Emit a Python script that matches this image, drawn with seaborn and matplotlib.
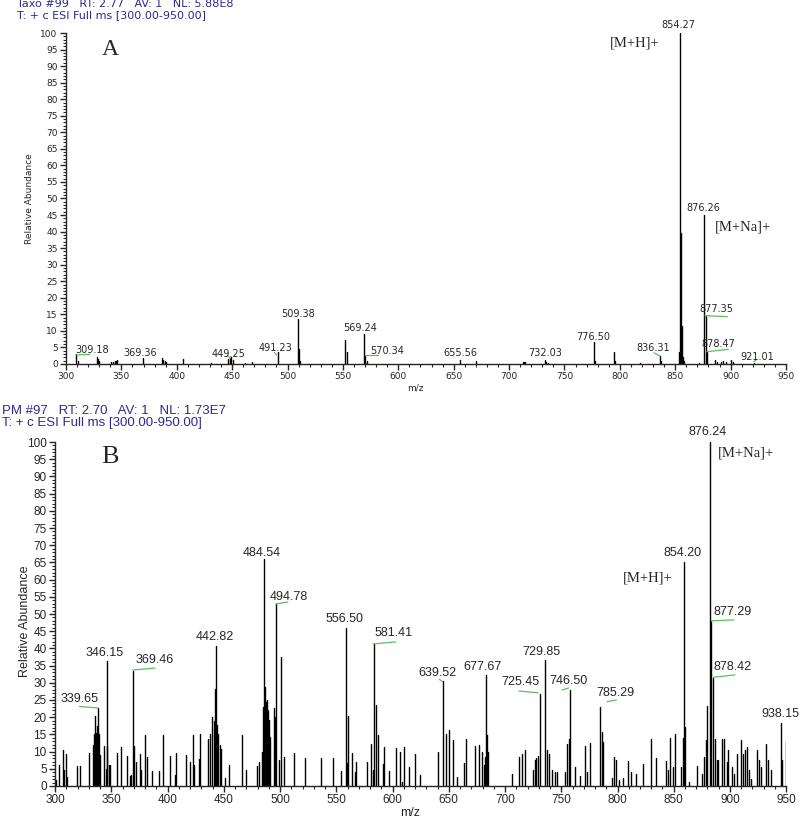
import numpy as np
import pandas as pd
import matplotlib
matplotlib.use("Agg")
import matplotlib.pyplot as plt
import seaborn as sns
from matplotlib.ticker import MultipleLocator

# ---- Panel A : Taxo #99 ----
a_mz = [309.18, 310.5, 327.7, 328.5, 329.5, 340.7, 342.2, 343.8, 345.2, 346.1,
        369.36, 386.8, 388.0, 389.2, 390.4, 405.8, 431.2, 446.2, 448.0, 449.25,
        450.4, 462.0, 468.0, 491.23, 509.38, 510.3, 511.4, 551.8, 553.9, 569.24,
        570.34, 571.5, 655.56, 669.8, 712.5, 713.5, 714.5, 732.03, 733.6, 735.0,
        776.50, 777.5, 794.4, 795.4, 818.3, 836.31, 837.3, 853.2, 854.27, 855.27,
        856.27, 857.3, 858.3, 871.9, 876.26, 877.35, 878.47, 886.2, 888.0, 891.1,
        893.3, 895.4, 900.3, 901.8, 921.01]
a_int = [3.0, 1.0, 2.2, 1.6, 1.0, 0.7, 0.5, 0.8, 1.0, 1.2,
         1.7, 1.7, 1.3, 1.0, 0.7, 1.5, 0.4, 1.5, 1.8, 2.0,
         1.2, 0.4, 0.5, 3.5, 13.5, 4.5, 1.0, 7.3, 3.5, 9.0,
         2.5, 1.0, 1.2, 1.0, 0.5, 0.7, 0.5, 1.3, 0.7, 0.4,
         6.5, 1.0, 3.7, 1.0, 0.3, 2.5, 1.0, 3.5, 100.0, 39.5,
         11.5, 2.0, 1.0, 0.3, 45.0, 14.5, 4.0, 1.3, 0.6, 0.5,
         1.0, 0.6, 1.3, 0.5, 0.3]
a_labels = ["309.18", "369.36", "449.25", "491.23", "509.38", "569.24", "570.34",
            "655.56", "732.03", "776.50", "836.31", "854.27", "876.26", "877.35",
            "878.47", "921.01"]
a_header = ["Taxo #99   RT: 2.77   AV: 1   NL: 5.88E8",
            "T: + c ESI Full ms [300.00-950.00]"]

# ---- Panel B : PM #97 ----
b_mz = [300.9, 303.6, 306.8, 308.3, 309.8, 311.0, 319.3, 322.3, 330.0,
        333.6, 334.5, 335.6, 336.5, 337.1, 338.0, 338.6, 339.5, 340.4,
        343.1, 344.9, 346.0, 346.6, 347.8, 349.0, 354.9, 358.8, 363.9, 366.2,
        367.4, 369.2, 370.4, 371.6, 375.1, 376.6, 379.6, 381.7, 386.1, 392.7,
        395.9, 401.9, 406.9, 407.5, 416.4, 420.3, 422.4, 423.3, 427.7, 428.6,
        435.7, 438.1, 439.6, 441.1, 442.0, 443.2, 444.1, 445.2, 446.4, 447.6,
        451.5, 454.4, 466.6, 469.9, 479.7, 481.2,
        484.2, 485.0, 485.7, 486.5, 487.3, 488.0, 488.9, 489.8, 491.0,
        494.6, 495.4, 496.1, 499.0, 500.5, 503.5, 512.4, 522.2, 536.1, 546.8,
        554.0, 558.4, 559.3, 560.5, 564.3, 566.7, 567.9, 577.7, 581.3, 582.8,
        583.7, 585.7, 587.2, 591.1, 592.0, 597.0, 603.0, 606.8, 608.0, 609.8,
        614.8, 619.9, 624.7, 640.3, 644.7, 647.1, 650.0, 653.5, 657.4, 663.2,
        665.6, 673.5, 677.1, 679.4, 680.9, 682.4, 682.9, 683.8, 684.7, 705.9,
        712.4, 715.3, 717.6, 725.0, 726.5, 727.9, 729.4, 730.9, 735.9, 737.1,
        739.1, 742.1, 744.1, 745.9, 752.9, 755.0, 756.8, 757.9, 761.8, 766.8,
        771.5, 772.6, 775.6, 784.4, 785.9, 786.8, 794.7, 797.1, 798.5, 801.5,
        805.3, 809.7, 811.8, 816.8, 822.6, 830.0, 834.4, 843.2, 844.7, 847.1,
        849.4, 851.5, 856.8, 858.2, 858.8, 860.3, 863.8, 870.6, 875.0, 877.1,
        878.5, 879.4, 881.8, 882.9, 884.7, 886.8, 888.2, 889.7, 892.6, 894.7,
        897.1, 898.5, 901.5, 903.8, 906.5, 909.4, 911.2, 913.2, 915.3, 917.1,
        919.1, 924.4, 925.9, 927.9, 931.8, 933.8, 936.2, 945.0, 946.5, 949.4]
b_int = [1.6, 6.0, 10.5, 4.7, 9.2, 2.6, 5.8, 5.8, 9.7,
         12.0, 15.0, 20.3, 15.5, 17.5, 15.5, 22.7, 15.0, 9.0,
         11.6, 4.8, 36.2, 11.6, 6.0, 6.0, 9.6, 11.3, 8.6, 2.9,
         3.3, 33.4, 11.6, 7.0, 9.4, 4.7, 14.7, 8.4, 4.3, 4.3,
         14.7, 8.7, 3.3, 9.6, 9.1, 7.0, 14.7, 6.0, 7.8, 15.0,
         13.8, 15.0, 20.0, 19.0, 28.3, 40.7, 17.6, 15.0, 12.0, 10.9,
         2.3, 6.0, 14.7, 4.7, 5.8, 7.0,
         9.9, 23.0, 66.0, 28.8, 24.4, 25.0, 22.0, 19.3, 14.2,
         22.8, 20.0, 53.0, 7.5, 37.5, 8.4, 9.7, 8.1, 8.1, 8.1,
         4.3, 46.0, 6.7, 20.3, 9.6, 4.1, 7.0, 7.0, 12.3, 4.6,
         41.2, 23.6, 14.7, 6.5, 11.3, 4.3, 11.0, 10.0, 1.2, 11.3,
         5.5, 9.4, 3.3, 9.9, 30.4, 15.2, 16.2, 13.3, 2.6, 6.7,
         13.8, 11.6, 12.0, 9.9, 6.0, 8.4, 32.4, 14.7, 10.0, 3.4,
         8.4, 9.4, 10.4, 4.6, 7.7, 8.2, 8.6, 26.8, 36.7, 10.4,
         9.4, 4.6, 4.1, 4.1, 4.1, 12.3, 13.8, 27.8, 5.5, 2.9,
         11.6, 4.1, 12.6, 23.0, 15.7, 12.8, 2.3, 8.4, 7.5, 1.6,
         2.3, 7.2, 4.1, 3.4, 6.5, 13.8, 8.0, 7.2, 4.6, 14.0,
         5.5, 15.0, 5.5, 14.0, 65.0, 17.2, 1.2, 5.7, 3.5, 8.4,
         13.5, 23.4, 100.0, 48.0, 31.5, 13.8, 7.5, 7.5, 13.8, 13.8,
         7.0, 10.4, 5.5, 3.5, 9.4, 13.3, 9.4, 10.4, 11.3, 4.6,
         2.1, 10.4, 7.5, 5.5, 12.1, 7.5, 4.6, 18.3, 7.5, 13.0]
b_labels = ["339.65", "346.15", "369.46", "442.82", "484.54", "494.78", "556.50",
            "581.41", "639.52", "677.67", "725.45", "729.85", "746.50", "785.29",
            "854.20", "876.24", "877.29", "878.42", "938.15"]
b_header = ["PM #97   RT: 2.70   AV: 1   NL: 1.73E7",
            "T: + c ESI Full ms [300.00-950.00]"]

# label placement (layout only): centre of each label, in axis units
a_label_xy = [(323.2, 4.2), (366.8, 3.4), (446.5, 3.0), (488.7, 4.9), (509.2, 15.0),
              (565.4, 10.8), (589.5, 4.0), (655.7, 3.2), (732.4, 3.2), (776.0, 8.2),
              (830.2, 4.7), (852.8, 102.4), (875.3, 47.0), (887.5, 16.5),
              (888.9, 6.0), (923.6, 2.2)]
a_leaders = [((308.8, 2.7), (321.7, 2.9)), ((445.6, 2.7), (448.1, 1.7)),
             ((488.1, 3.5), (490.2, 2.7)), ((569.9, 2.7), (581.9, 2.7)),
             ((830.8, 3.4), (836.3, 2.4)), ((876.9, 14.6), (897.0, 14.3)),
             ((878.4, 3.7), (897.9, 4.4)), ((921.1, 0.7), (923.5, 1.4))]
b_label_xy = [(322.2, 25.3), (344.4, 38.7), (388.8, 36.6), (442.1, 43.3), (483.6, 67.8),
              (507.9, 55.0), (557.6, 48.5), (600.5, 44.6), (640.0, 32.9), (680.0, 34.7),
              (713.7, 30.3), (732.4, 38.9), (756.0, 30.5), (798.4, 26.9), (858.2, 67.6),
              (880.4, 102.8), (902.6, 50.7), (902.6, 34.7), (945.0, 20.8)]
b_leaders = [((321.6, 23.1), (338.2, 22.7)), ((369.0, 33.7), (388.8, 34.3)),
             ((496.1, 52.9), (507.0, 53.5)), ((582.8, 41.3), (603.0, 41.9)),
             ((641.6, 31.0), (644.6, 30.3)), ((712.2, 27.6), (729.4, 27.1)),
             ((750.7, 27.9), (756.6, 28.5)), ((790.7, 24.5), (799.0, 25.0)),
             ((883.4, 48.0), (903.5, 48.3)), ((885.1, 31.6), (904.4, 32.3))]

sns.set_style("ticks")
plt.rcParams["font.family"] = ["DejaVu Sans"]

GREEN = "#5cbf5c"
BLUE = "#2a2a90"


def draw_spectrum(ax, mz, inten, tick_size, tick_font):
    # each peak = a stick from 0 up to its intensity
    n = len(mz)
    df = pd.DataFrame({
        "mz": np.repeat(mz, 2),
        "rel": np.column_stack([np.zeros(n), inten]).ravel(),
        "peak": np.repeat(np.arange(n), 2),
    })
    sns.lineplot(data=df, x="mz", y="rel", units="peak", estimator=None,
                 sort=False, color="black", lw=1.0, ax=ax, legend=False)
    ax.set_xlim(300, 950)
    ax.set_ylim(0, 100)
    ax.xaxis.set_major_locator(MultipleLocator(50))
    ax.xaxis.set_minor_locator(MultipleLocator(10))
    ax.yaxis.set_major_locator(MultipleLocator(5))
    ax.yaxis.set_minor_locator(MultipleLocator(1))
    ax.tick_params(which="major", direction="out", length=4.5, width=1.0,
                   labelsize=tick_size, pad=1.5)
    ax.tick_params(which="minor", direction="out", length=2.5, width=0.8)
    for lab in ax.get_xticklabels() + ax.get_yticklabels():
        lab.set_family(tick_font)
    sns.despine(ax=ax)
    for s in ("left", "bottom"):
        ax.spines[s].set_linewidth(1.0)
    ax.set_xlabel("")
    ax.set_ylabel("")


fig = plt.figure(figsize=(8, 8.19), dpi=100)
axA = fig.add_axes([0.0825, 0.5556, 0.9, 0.4041])
axB = fig.add_axes([0.0688, 0.0403, 0.914, 0.42])

draw_spectrum(axA, a_mz, a_int, 6.5, "DejaVu Sans")
draw_spectrum(axB, b_mz, b_int, 8.5, "Liberation Sans")

# peak labels and leader lines
for txt, (x, y) in zip(a_labels, a_label_xy):
    axA.text(x, y, txt, ha="center", va="center", fontsize=7,
             family="DejaVu Sans", clip_on=False)
for (p0, p1) in a_leaders:
    axA.plot([p0[0], p1[0]], [p0[1], p1[1]], color=GREEN, lw=0.9)
for txt, (x, y) in zip(b_labels, b_label_xy):
    axB.text(x, y, txt, ha="center", va="center", fontsize=9,
             family="Liberation Sans", clip_on=False)
for (p0, p1) in b_leaders:
    axB.plot([p0[0], p1[0]], [p0[1], p1[1]], color=GREEN, lw=0.9)

serif = "Liberation Serif"
axA.text(339.7, 94.9, "A", fontsize=17, family=serif, ha="center", va="center")
axA.text(813.7, 96.9, "[M+H]+", fontsize=10.5, family=serif, ha="center", va="center")
axA.text(911.5, 41.5, "[M+Na]+", fontsize=10.5, family=serif, ha="center", va="center")
axB.text(348.9, 95.6, "B", fontsize=19, family=serif, ha="center", va="center")
axB.plot([353.5, 355.5], [95.6, 95.6], color=GREEN, lw=0.9)
axB.text(827.1, 60.6, "[M+H]+", fontsize=10.5, family=serif, ha="center", va="center")
axB.text(914.5, 96.7, "[M+Na]+", fontsize=10.5, family=serif, ha="center", va="center")

# axis titles
axA.text(-0.05, 0.5, "Relative Abundance", transform=axA.transAxes, rotation=90,
         ha="center", va="center", fontsize=6.5, family="DejaVu Sans")
axA.text(0.485, -0.072, "m/z", transform=axA.transAxes, ha="center", va="center",
         fontsize=6.5, family="DejaVu Sans")
axB.text(-0.041, 0.48, "Relative Abundance", transform=axB.transAxes, rotation=90,
         ha="center", va="center", fontsize=9, family="Liberation Sans")
axB.text(0.485, -0.078, "m/z", transform=axB.transAxes, ha="center", va="center",
         fontsize=9, family="Liberation Sans")

# instrument header lines
fig.text(17 / 800, 1 - 4 / 819, a_header[0], color=BLUE, fontsize=8,
         ha="left", va="center", family="DejaVu Sans")
fig.text(17 / 800, 1 - 15 / 819, a_header[1], color=BLUE, fontsize=8,
         ha="left", va="center", family="DejaVu Sans")
fig.text(2 / 800, 1 - 411 / 819, b_header[0], color=BLUE, fontsize=9.5,
         ha="left", va="center", family="Liberation Sans")
fig.text(2 / 800, 1 - 423 / 819, b_header[1], color=BLUE, fontsize=9.5,
         ha="left", va="center", family="Liberation Sans")

fig.savefig("out.png", dpi=100)
